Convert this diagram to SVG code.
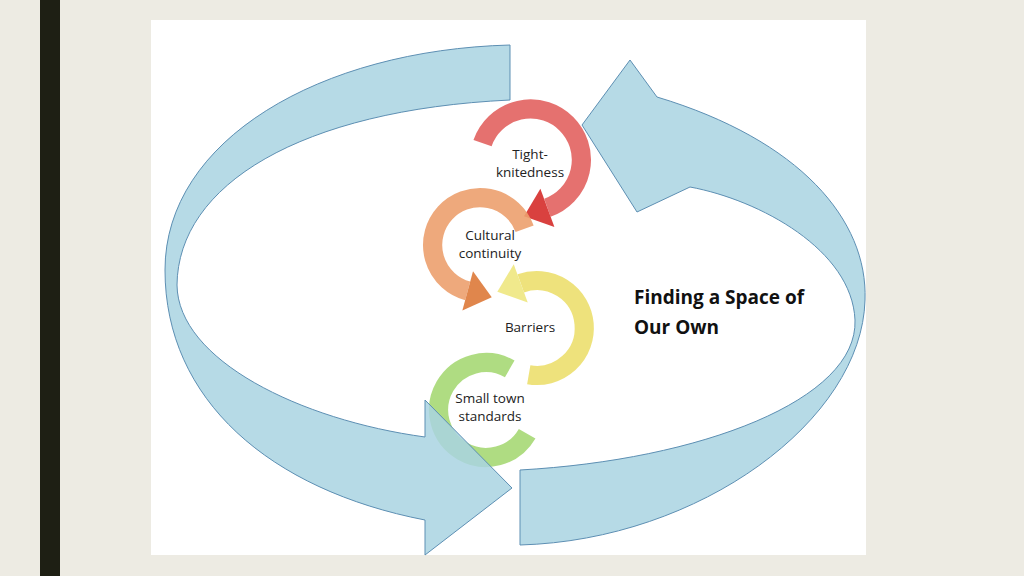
<svg xmlns="http://www.w3.org/2000/svg" width="1024" height="576" viewBox="0 0 1024 576">
<style>
.lbl{font-family:"Open Sans","Liberation Sans",sans-serif;font-size:13.5px;fill:#222;text-anchor:middle}
.big{fill:#a9d4e2;fill-opacity:0.85;stroke:#5d8fb3;stroke-width:1}
.arc{fill:none;stroke-width:17;stroke-opacity:0.9}
</style>
<rect width="1024" height="576" fill="#edebe3"/>
<rect x="40" y="0" width="20" height="576" fill="#1e1f14"/>
<rect x="151" y="20" width="715" height="535" fill="#fff"/>
<g id="tight">
<g transform="translate(530,160) scale(1.13) translate(-530,-158)">
<path class="arc" stroke="#e2625f" d="M488,143 A45,45 0 1 1 545.4,200.3"/>
<polygon fill="#d9413f" points="551.6,217.2 539.2,183.4 524.7,207.8"/>
</g>
<text class="lbl" x="530" y="159">Tight-</text><text class="lbl" x="530" y="177">knitedness</text>
</g>
<g id="cultural">
<g transform="translate(480,245) scale(1.13) translate(-478,-245)">
<path class="arc" stroke="#eca06e" d="M517.5,230.6 A42,42 0 1 0 467.1,285.6"/>
<polygon fill="#e0864c" points="462.4,303 471.8,268.2 488.4,291.3"/>
</g>
<text class="lbl" x="490" y="240">Cultural</text><text class="lbl" x="490" y="258">continuity</text>
</g>
<g id="barriers">
<g transform="translate(537,328) scale(1.13) translate(-537,-330)">
<path class="arc" stroke="#ecdf6e" d="M529.7,371.4 A42,42 0 1 0 522.6,290.5"/>
<polygon fill="#f0e98c" points="516.4,273.6 528.8,307.4 501.9,298"/>
</g>
<text class="lbl" x="530" y="332">Barriers</text>
</g>
<g id="small">
<g transform="translate(486,410) scale(1.13) translate(-485,-410)">
<path class="arc" stroke="#a6d874" d="M506,373.6 A42,42 0 1 0 521.4,431"/>
</g>
<text class="lbl" x="490" y="403">Small town</text><text class="lbl" x="490" y="421">standards</text>
</g>
<g id="connectors">
<path class="big" d="M510,45 L510,100 C300,110 178,185 177,285 C178,360 300,420 425,437 L425,400 L512,488 L425,555 L425,520 C270,490 165,400 165,270 C165,140 320,50 510,45 Z"/>
<path class="big" d="M520,470 C700,460 858,400 855,320 C852,250 760,200 690,187 L637,212 L582,125 L630,60 L657,97 C800,140 868,220 865,300 C862,420 700,540 520,545 Z"/>
</g>
<text x="634" y="304" font-family="'Open Sans','Liberation Sans',sans-serif" font-weight="bold" font-size="19" fill="#111">Finding a Space of</text>
<text x="634" y="334" font-family="'Open Sans','Liberation Sans',sans-serif" font-weight="bold" font-size="19" fill="#111">Our Own</text>
</svg>
